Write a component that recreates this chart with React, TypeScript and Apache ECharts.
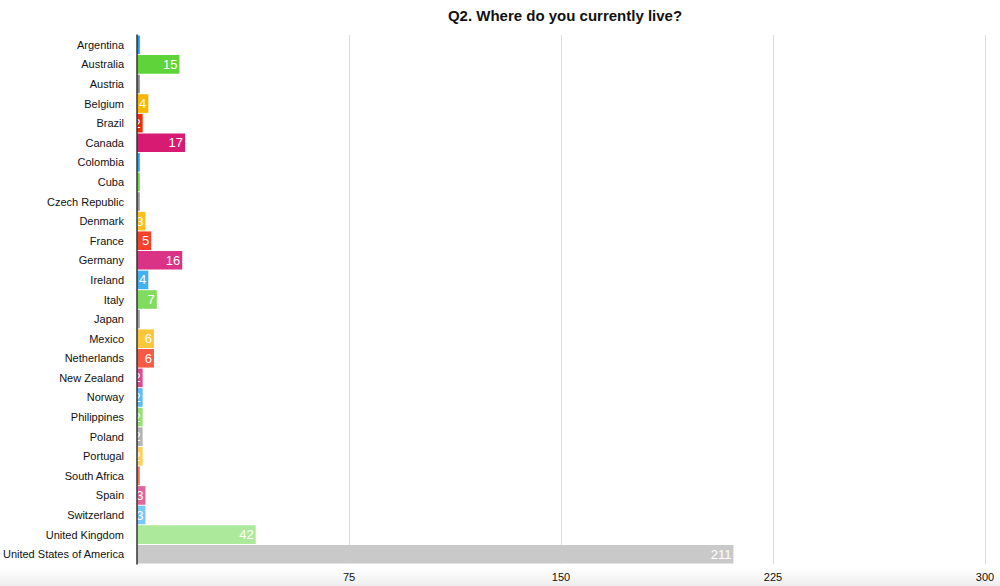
import React, { useEffect, useRef } from "react";
import * as echarts from "echarts";

const categories = [
  "Argentina", "Australia", "Austria", "Belgium", "Brazil", "Canada", "Colombia", "Cuba",
  "Czech Republic", "Denmark", "France", "Germany", "Ireland", "Italy", "Japan", "Mexico",
  "Netherlands", "New Zealand", "Norway", "Philippines", "Poland", "Portugal", "South Africa",
  "Spain", "Switzerland", "United Kingdom", "United States of America",
];
const values = [1, 15, 1, 4, 2, 17, 1, 1, 1, 3, 5, 16, 4, 7, 1, 6, 6, 2, 2, 2, 2, 2, 1, 3, 3, 42, 211];
const xTicks = [0, 75, 150, 225, 300];

const colors = [
  "#1a9cf0", "#5fd43a", "#888888", "#fbb400", "#f52a00", "#d81b72",
  "#2aa4f2", "#6bd64a", "#999999", "#fcbf1e", "#f5402a", "#da3385",
  "#42b0f4", "#7fdc5e", "#a0a0a0", "#fcc63a", "#f65a45", "#de4a92",
  "#5cbcf6", "#92e076", "#b4b4b4", "#fdd05a", "#f77462", "#e2649f",
  "#78c8f8", "#ade99a", "#c9c9c9",
];

export default function App() {
  const ref = useRef<HTMLDivElement>(null);
  useEffect(() => {
    if (!ref.current) return;
    const chart = echarts.init(ref.current, undefined, { renderer: "svg" });
    chart.setOption({
      animation: false,
      backgroundColor: "#ffffff",
      title: {
        text: "Q2. Where do you currently live?",
        left: 560,
        textAlign: "center",
        top: 3,
        textStyle: { fontFamily: "Liberation Sans", fontSize: 15, fontWeight: "bold", color: "#111" },
      },
      grid: {
        left: 137,
        right: 15,
        top: 35,
        bottom: 22,
        containLabel: false,
        outerBoundsMode: "none",
      },
      xAxis: {
        type: "value",
        min: xTicks[0],
        max: xTicks[xTicks.length - 1],
        interval: 75,
        axisLine: { show: false },
        axisTick: { show: false },
        axisLabel: {
          showMinLabel: false,
          fontFamily: "Liberation Sans",
          fontSize: 11,
          color: "#111",
          margin: 7,
        },
        splitLine: { show: true, lineStyle: { color: "#dcdcdc", width: 1 } },
      },
      yAxis: {
        type: "category",
        data: categories,
        inverse: true,
        z: 5,
        axisLine: { show: true, lineStyle: { color: "#333", width: 1.5 } },
        axisTick: { show: false },
        axisLabel: { fontFamily: "Liberation Sans", fontSize: 11, color: "#111", margin: 13 },
        splitLine: { show: false },
      },
      graphic: [
        {
          type: "rect",
          left: 0,
          top: 568,
          shape: { width: 1000, height: 18 },
          silent: true,
          z: -10,
          style: {
            fill: new echarts.graphic.LinearGradient(0, 0, 0, 1, [
              { offset: 0, color: "#ffffff" },
              { offset: 1, color: "#eeeeee" },
            ]),
          },
        },
      ],
      series: [
        {
          type: "bar",
          z: 2,
          data: values.map((v, i) => ({ value: v, itemStyle: { color: colors[i] } })),
          barCategoryGap: "5%",
          label: {
            show: true,
            position: "insideRight",
            distance: 2,
            color: "#ffffff",
            fontFamily: "Liberation Sans",
            fontSize: 13,
          },
        },
      ],
    });
    return () => chart.dispose();
  }, []);
  return (
    <div
      ref={ref}
      style={{ position: "fixed", left: 0, top: 0, width: 1000, height: 586 }}
    />
  );
}
